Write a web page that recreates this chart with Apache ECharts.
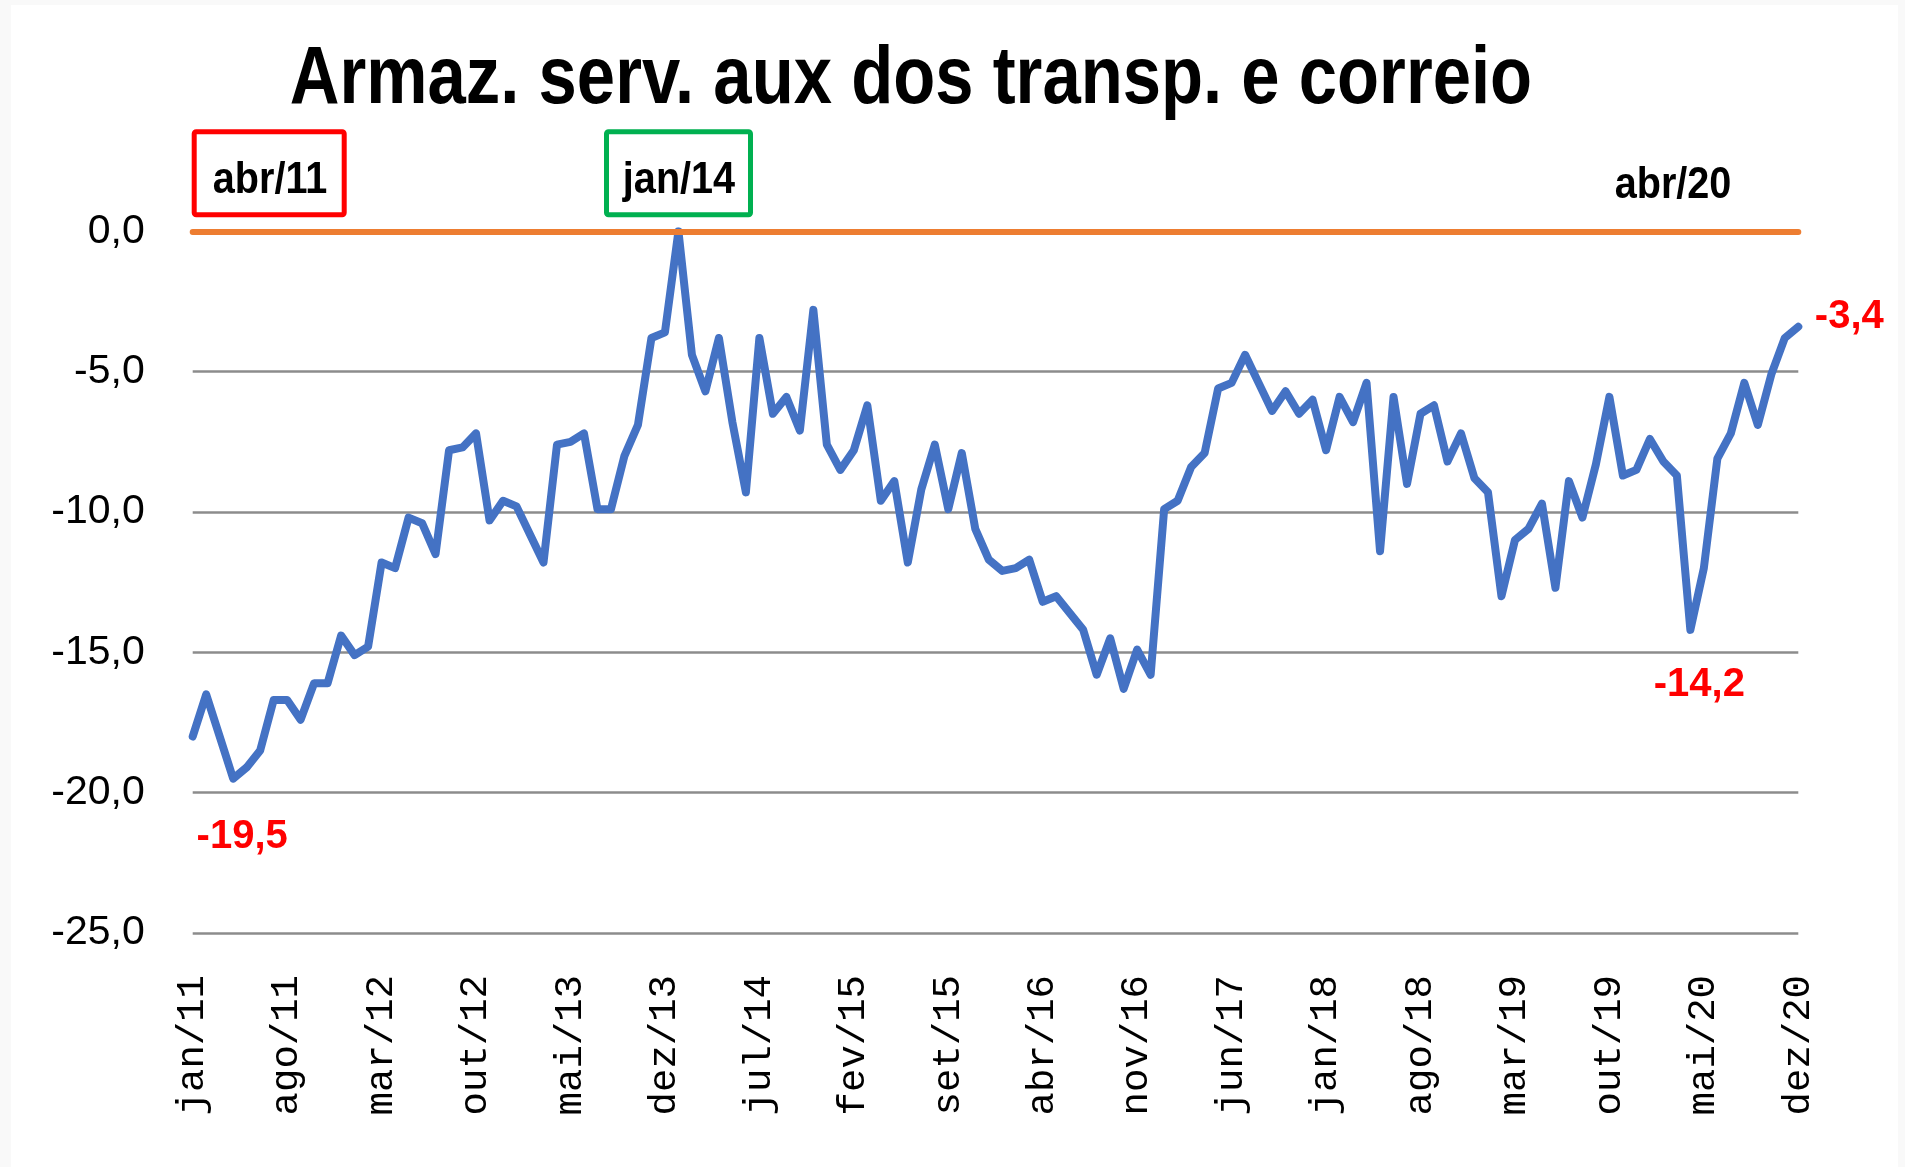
<!DOCTYPE html>
<html>
<head>
<meta charset="utf-8">
<script src="https://cdn.jsdelivr.net/npm/echarts@6/dist/echarts.min.js"></script>
<style>
html,body{margin:0;padding:0;background:#f9f9f9;}
#paper{position:absolute;left:11px;top:5px;width:1887px;height:1162px;background:#ffffff;}
#chart{position:absolute;left:0;top:0;width:1905px;height:1167px;}
</style>
</head>
<body>
<div id="paper"></div>
<div id="chart"></div>
<script>
// ---- data ----
const monthNames = ['jan','fev','mar','abr','mai','jun','jul','ago','set','out','nov','dez'];
const years = ['11','12','13','14','15','16','17','18','19','20'];
const categories = [];
years.forEach(y => monthNames.forEach(m => categories.push(m + '/' + y)));

const values = [
  -18.0,-16.5,-18.0,-19.5,-19.1,-18.5,-16.7,-16.7,-17.4,-16.1,-16.1,-14.4,
  -15.1,-14.8,-11.8,-12.0,-10.2,-10.4,-11.5,-7.8,-7.7,-7.2,-10.3,-9.6,
  -9.8,-10.8,-11.8,-7.6,-7.5,-7.2,-9.9,-9.9,-8.0,-6.9,-3.8,-3.6,
  0.0,-4.4,-5.7,-3.8,-6.8,-9.3,-3.8,-6.5,-5.9,-7.1,-2.8,-7.6,
  -8.5,-7.8,-6.2,-9.6,-8.9,-11.8,-9.2,-7.6,-9.9,-7.9,-10.6,-11.7,
  -12.1,-12.0,-11.7,-13.2,-13.0,-13.6,-14.2,-15.8,-14.5,-16.3,-14.9,-15.8,
  -9.9,-9.6,-8.4,-7.9,-5.6,-5.4,-4.4,-5.4,-6.4,-5.7,-6.5,-6.0,
  -7.8,-5.9,-6.8,-5.4,-11.4,-5.9,-9.0,-6.5,-6.2,-8.2,-7.2,-8.8,
  -9.3,-13.0,-11.0,-10.6,-9.7,-12.7,-8.9,-10.2,-8.3,-5.9,-8.7,-8.5,
  -7.4,-8.2,-8.7,-14.2,-12.0,-8.1,-7.2,-5.4,-6.9,-5.1,-3.8,-3.4
];

const yTicks = [0, -5, -10, -15, -20, -25];
const labelledMonths = ['abr/11', 'abr/20', 'dez/20'];
const boxTexts = ['abr/11', 'jan/14', 'abr/20'];
const titleText = 'Armaz. serv. aux dos transp. e correio';

const fmt = v => v.toFixed(1).replace('.', ',');
const SANS = "'Liberation Sans', Arial, sans-serif";

const labelOffsets = {'abr/11': [9, 58], 'abr/20': [9, 55], 'dez/20': [51, -10]};

const boxText = (txt, x, y) => ({
  type: 'text', x: x, y: y, scaleX: 0.9, scaleY: 1,
  style: {text: txt, fontFamily: SANS, fontWeight: 'bold', fontSize: 44, fill: '#000000',
          textAlign: 'center', textVerticalAlign: 'middle'}
});

const chart = echarts.init(document.getElementById('chart'));
chart.setOption({
  backgroundColor: 'transparent',
  animation: false,
  grid: {left: 192.7, right: 106.7, top: 231.3, bottom: 234, containLabel: false},
  xAxis: {
    type: 'category',
    data: categories,
    boundaryGap: false,
    axisLine: {show: false},
    axisTick: {show: false},
    splitLine: {show: false},
    axisLabel: {
      interval: 6,
      rotate: 90,
      margin: 42,
      fontFamily: "'Liberation Mono', 'DejaVu Sans Mono', monospace",
      fontSize: 39,
      color: '#000000'
    }
  },
  yAxis: {
    type: 'value',
    min: yTicks[yTicks.length - 1],
    max: yTicks[0],
    interval: 5,
    axisLine: {show: false},
    axisTick: {show: false},
    splitLine: {show: true, lineStyle: {color: '#8c8c8c', width: 2.6}},
    axisLabel: {
      margin: 48,
      formatter: v => fmt(v),
      fontFamily: SANS,
      fontSize: 41,
      color: '#000000'
    }
  },
  series: [{
    type: 'line',
    data: values,
    showSymbol: false,
    lineStyle: {color: '#4472C4', width: 8, cap: 'round', join: 'round'},
    itemStyle: {color: '#4472C4'},
    markLine: {
      silent: true,
      symbol: 'none',
      label: {show: false},
      lineStyle: {color: '#ED7D31', width: 6, type: 'solid', cap: 'round'},
      data: [{yAxis: 0}]
    },
    markPoint: {
      silent: true,
      symbol: 'circle',
      symbolSize: 1,
      itemStyle: {color: 'rgba(0,0,0,0)'},
      data: labelledMonths.map(m => {
        const i = categories.indexOf(m);
        return {
          coord: [m, values[i]],
          value: values[i],
          label: {
            show: true,
            position: 'inside',
            offset: labelOffsets[m],
            formatter: p => fmt(p.value),
            color: '#FF0000',
            fontFamily: SANS,
            fontWeight: 'bold',
            fontSize: 40
          }
        };
      })
    }
  }],
  graphic: [
    {type: 'text', x: 911, y: 81, scaleX: 0.85, scaleY: 1,
     style: {text: titleText, fontFamily: SANS, fontWeight: 'bold', fontSize: 81, fill: '#000000',
             textAlign: 'center', textVerticalAlign: 'middle'}},
    {type: 'rect', shape: {x: 194.2, y: 131.8, width: 150, height: 83, r: 2},
     style: {fill: '#ffffff', stroke: '#FF0000', lineWidth: 5}},
    {type: 'rect', shape: {x: 606.5, y: 131.8, width: 144, height: 83, r: 2},
     style: {fill: '#ffffff', stroke: '#00B050', lineWidth: 5}},
    boxText(boxTexts[0], 270, 181),
    boxText(boxTexts[1], 679, 181),
    boxText(boxTexts[2], 1673, 186)
  ]
});
</script>
</body>
</html>
